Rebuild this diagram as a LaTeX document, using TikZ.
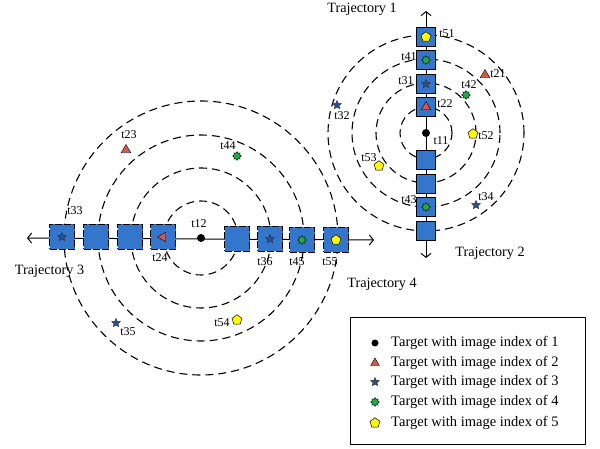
\documentclass[tikz,border=0pt]{standalone}
\usepackage{fontspec}
\setmainfont{Liberation Serif}
\usetikzlibrary{arrows.meta,shapes.geometric}
\definecolor{sqblue}{RGB}{52,118,204}
\definecolor{trired}{RGB}{214,88,72}
\definecolor{starblue}{RGB}{40,80,150}
\definecolor{grn}{RGB}{30,170,70}
\definecolor{yel}{RGB}{255,250,0}
\begin{document}
\begin{tikzpicture}[x=1pt,y=-1pt,
  ring/.style={dash pattern=on 8pt off 5pt, line width=1.1pt},
  traj/.style={line width=1pt, {Straight Barb[length=4pt,width=10pt]}-{Straight Barb[length=4pt,width=10pt]}},
  bigsq/.style={rectangle, minimum size=25pt, fill=sqblue, draw=black, line width=1pt, dash pattern=on 7pt off 2pt, inner sep=0pt},
  smallsq/.style={rectangle, minimum size=19pt, fill=sqblue, draw=black, line width=1pt, inner sep=0pt},
  dot/.style={circle, fill=black, minimum size=8pt, inner sep=0pt},
  tri/.style={regular polygon, regular polygon sides=3, fill=trired, draw=black, line width=0.4pt, minimum size=11pt, inner sep=0pt},
  st/.style={star, star points=5, star point ratio=2.2, fill=starblue, draw=black!80, minimum size=9pt, inner sep=0pt, line width=0.5pt},
  gr/.style={star, star points=8, star point ratio=1.4, fill=grn, draw=black, minimum size=8.5pt, inner sep=0pt, line width=0.5pt},
  yl/.style={regular polygon, regular polygon sides=5, fill=yel, draw=black, minimum size=10.5pt, inner sep=0pt, line width=0.5pt},
  lbl/.style={font=\fontsize{12}{13}\selectfont, inner sep=0pt},
  ttl/.style={font=\fontsize{14.2}{16}\selectfont, inner sep=0pt},
  leg/.style={font=\fontsize{14.5}{16}\selectfont, inner sep=0pt, anchor=west}
]
\useasboundingbox (0,0) rectangle (600,449);

% centers
\coordinate (C1) at (426,133);
\coordinate (C2) at (201,238);

% rings
\foreach \r in {26,50,74,98} \draw[ring] (C1) circle[radius=\r pt];
\foreach \r in {37,70,103,137} \draw[ring] (C2) circle[radius=\r pt];

% trajectories
\coordinate (T1top) at (426,11);
\coordinate (T1bot) at (426,258);
\coordinate (T3end) at (27,238);
\coordinate (T4end) at (374,240);
\draw[traj] (T1bot) -- (T1top);
\draw[traj] (T3end) -- (T4end);

% right squares
\node[smallsq] (s51) at (426,37) {};
\node[smallsq] (s41) at (426,60) {};
\node[smallsq] (s31) at (426,84) {};
\node[smallsq] (s22) at (426,107) {};
\node[smallsq] (sr1) at (426,160) {};
\node[smallsq] (sr2) at (426,184) {};
\node[smallsq] (s43) at (426,207) {};
\node[smallsq] (sr4) at (426,231) {};

% left squares
\node[bigsq] (s33) at (62,237) {};
\node[bigsq] (sl2) at (96,237) {};
\node[bigsq] (sl3) at (130,237) {};
\node[bigsq] (s24) at (163,237) {};
\node[bigsq] (sl5) at (237,239) {};
\node[bigsq] (s36) at (270,239) {};
\node[bigsq] (s45) at (302,240) {};
\node[bigsq] (s55) at (336,240) {};

% markers right group
\node[yl] (m51) at (426,37) {};
\node[gr] (m41) at (426,60) {};
\node[st] (m31) at (426,84) {};
\node[tri] (m22) at (426,107) {};
\node[dot] (m11) at (426,133) {};
\node[tri] (m21) at (485,75) {};
\node[gr] (m42) at (466,95) {};
\node[st] (m32) at (337,105) {};
\node[yl] (m52) at (473,134) {};
\node[yl] (m53) at (379,166) {};
\node[gr] (m43) at (426,207) {};
\node[st] (m34) at (476,205) {};

% markers left group
\node[dot] (m12) at (201,238) {};
\node[tri] (m23) at (126,150) {};
\node[gr] (m44) at (237,156) {};
\node[st] (m33) at (62,237) {};
\node[tri, shape border rotate=90] (m24) at (163,237) {};
\node[st] (m36) at (270,239) {};
\node[gr] (m45) at (302,240) {};
\node[yl] (m55) at (336,240) {};
\node[st] (m35) at (116,323) {};
\node[yl] (m54) at (237,320) {};

% labels
\node[lbl] at (447,34) {t51};
\node[lbl] at (409,57) {t41};
\node[lbl] at (406,81) {t31};
\node[lbl] at (445,104) {t22};
\node[lbl] at (441,141) {t11};
\node[lbl] at (498,74) {t21};
\node[lbl] at (469,85) {t42};
\node[lbl] at (342,116) {t32};
\node[lbl] at (486,136) {t52};
\node[lbl] at (369,158) {t53};
\node[lbl] at (409,200) {t43};
\node[lbl] at (486,197) {t34};
\node[lbl] at (199,224) {t12};
\node[lbl] at (129,135) {t23};
\node[lbl] at (228,146) {t44};
\node[lbl] at (75,211) {t33};
\node[lbl] at (160,258) {t24};
\node[lbl] at (265,262) {t36};
\node[lbl] at (297,262) {t45};
\node[lbl] at (330,262) {t55};
\node[lbl] at (128,332) {t35};
\node[lbl] at (222,323) {t54};

\node[ttl] at (362,9) {Trajectory 1};
\node[ttl] at (490,253) {Trajectory 2};
\node[ttl] at (49.5,271) {Trajectory 3};
\node[ttl] at (382,284) {Trajectory 4};

% legend
\node[draw=black, line width=0.6pt, minimum width=235pt, minimum height=127pt, inner sep=0pt, anchor=north west] (legbox) at (350,317) {};
\node[dot, minimum size=7pt] (l1) at (375,343) {};
\node[tri, minimum size=10pt] (l2) at (375,363) {};
\node[st] (l3) at (375,382) {};
\node[gr] (l4) at (375,402) {};
\node[yl] (l5) at (375,423) {};
\node[leg] (lt1) at (391,343) {Target with image index of 1};
\node[leg] (lt2) at (391,363) {Target with image index of 2};
\node[leg] (lt3) at (391,382) {Target with image index of 3};
\node[leg] (lt4) at (391,402) {Target with image index of 4};
\node[leg] (lt5) at (391,423) {Target with image index of 5};
\end{tikzpicture}
\end{document}
